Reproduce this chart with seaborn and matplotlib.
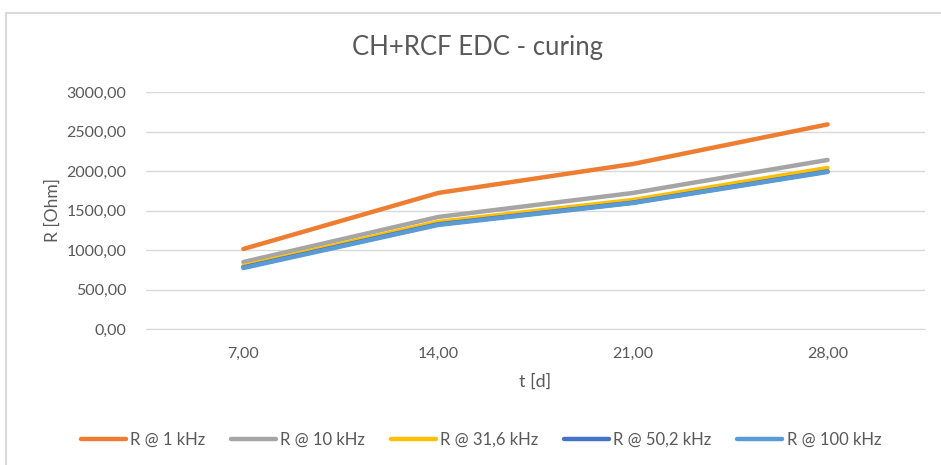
import matplotlib
matplotlib.use("Agg")
import matplotlib.pyplot as plt
import seaborn as sns
import pandas as pd
from matplotlib.patches import Rectangle
from matplotlib.ticker import FuncFormatter

days = ["7,00", "14,00", "21,00", "28,00"]
series_names = ["R @ 1 kHz", "R @ 10 kHz", "R @ 31,6 kHz", "R @ 50,2 kHz", "R @ 100 kHz"]
r_1k = [1013, 1722, 2089, 2590]
r_10k = [848, 1418, 1722, 2140]
r_31k6 = [798, 1355, 1633, 2038]
r_50k2 = [780, 1325, 1600, 1995]
r_100k = [772, 1317, 1595, 1988]
colors = ["#ED7D31", "#A5A5A5", "#FFC000", "#4472C4", "#5B9BD5"]

rows = []
for name, vals in zip(series_names, [r_1k, r_10k, r_31k6, r_50k2, r_100k]):
    for d, v in zip(days, vals):
        rows.append({"t": d, "R": v, "series": name})
df = pd.DataFrame(rows)

sns.set_style("white")
plt.rcParams["font.family"] = ["Lato", "DejaVu Sans"]

fig = plt.figure(figsize=(9.41, 4.65), dpi=100)
fig.patches.append(Rectangle((6 / 941, -0.1), 1.2, 1 - 13 / 465 + 0.1, transform=fig.transFigure,
                             fill=False, edgecolor="#D9D9D9", linewidth=1.5))
ax = fig.add_axes([146 / 941, 1 - 329 / 465, 779 / 941, 237 / 465])

sns.lineplot(data=df, x="t", y="R", hue="series", palette=colors, linewidth=3.2,
             ax=ax, sort=False, legend=True)

ax.set_xlim(-0.5, 3.5)
ax.set_ylim(0, 3000)
ax.set_yticks(range(0, 3001, 500))
ax.yaxis.set_major_formatter(FuncFormatter(lambda v, p: f"{v:.2f}".replace(".", ",")))
ax.grid(axis="y", color="#D9D9D9", linewidth=1)
ax.grid(axis="x", visible=False)
for s in ["top", "right", "left"]:
    ax.spines[s].set_visible(False)
ax.spines["bottom"].set_color("#D9D9D9")
ax.tick_params(axis="both", length=0, labelsize=11.5, labelcolor="#595959")
ax.tick_params(axis="x", pad=13)
ax.tick_params(axis="y", pad=14)
ax.set_xlabel("t [d]", fontsize=13, color="#595959", labelpad=9)
ax.set_ylabel("R [Ohm]", fontsize=12.5, color="#595959", labelpad=4)
fig.text(478 / 941, 1 - 48 / 465, "CH+RCF EDC - curing", fontsize=18.5, color="#595959",
         ha="center", va="center")

handles, labels = ax.get_legend_handles_labels()
ax.get_legend().remove()
fig.legend(handles, labels, loc="center", bbox_to_anchor=(481 / 941, 1 - 440 / 465), ncol=5,
           frameon=False, fontsize=12, labelcolor="#595959", handlelength=2.7,
           handletextpad=0.25, columnspacing=1.55)

fig.savefig("out.png", dpi=100)
